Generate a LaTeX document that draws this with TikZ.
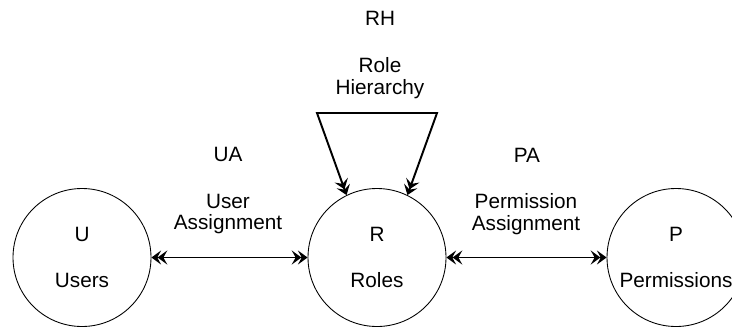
\documentclass[tikz,border=0pt]{standalone}
\usepackage{fontspec}
\setmainfont{Liberation Sans}
\usetikzlibrary{arrows.meta}

\tikzset{
  dbl/.tip={Stealth[length=5.5pt,width=8pt,inset=2.2pt,sep=-2pt] Stealth[length=5.5pt,width=8pt,inset=2.2pt]}
}

\begin{document}
\begin{tikzpicture}
  [font=\fontsize{11.8}{12.5}\selectfont,
   set/.style={draw,shape=circle,minimum size=2.76cm,inner sep=0,line width=0.5pt,align=center},
   lbl/.style={align=center,inner sep=0},
   conn/.style={line width=1.1pt,{dbl}-{dbl}}]

  \useasboundingbox (0,0) rectangle (14.64,6.54);
  \clip (0,0) rectangle (14.64,6.54);

  \node[set] (U) at (1.64, 1.39) {U\\[13.7pt]Users};
  \node[set] (R) at (7.54, 1.39) {R\\[13.7pt]Roles};
  \node[set] (P) at (13.52, 1.39) {P\\[13.7pt]Permissions};

  \node[lbl] (ua) at (4.56, 3.46) {UA};
  \node[lbl] (uaname) at (4.56, 2.26) {User\\Assignment};
  \node[lbl] (pa) at (10.54, 3.44) {PA};
  \node[lbl] (paname) at (10.52, 2.26) {Permission\\Assignment};
  \node[lbl] (rh) at (7.6, 6.17) {RH};
  \node[lbl] (rhname) at (7.6, 4.98) {Role\\Hierarchy};

  \coordinate (rhl) at (6.34, 4.28);
  \coordinate (rhr) at (8.74, 4.28);

  \draw[conn] (U) -- (R);
  \draw[conn] (R) -- (P);
  \draw[conn] (R.116) -- (rhl) -- (rhr) -- (R.64);
\end{tikzpicture}
\end{document}
